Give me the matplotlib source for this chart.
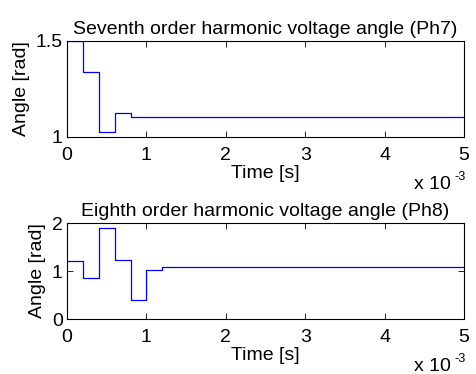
import matplotlib
matplotlib.use("Agg")
import matplotlib.pyplot as plt
from matplotlib.ticker import FuncFormatter

plt.rcParams['font.family'] = ['Liberation Sans', 'DejaVu Sans']

# step times [s] and angle values [rad]
t_ph7 = [0, 0.2e-3, 0.4e-3, 0.6e-3, 0.8e-3, 5e-3]
ph7 = [1.5, 1.34, 1.024, 1.127, 1.103, 1.103]

t_ph8 = [0, 0.2e-3, 0.4e-3, 0.6e-3, 0.8e-3, 1.0e-3, 1.2e-3, 5e-3]
ph8 = [1.20, 0.854, 1.89, 1.235, 0.39, 1.027, 1.083, 1.083]

titles = ['Seventh order harmonic voltage angle (Ph7)',
          'Eighth order harmonic voltage angle (Ph8)']
ylims = [(1, 1.5), (0, 2)]
yticks = [[1, 1.5], [0, 1, 2]]
xticks = [0, 1e-3, 2e-3, 3e-3, 4e-3, 5e-3]

fig = plt.figure(figsize=(4.76, 3.74), dpi=100)
ax1 = fig.add_axes([0.1408, 0.6337, 0.834, 0.2567])
ax2 = fig.add_axes([0.1408, 0.147, 0.834, 0.2567])

fs = 14
for ax, t, y, title, yl, yt in zip([ax1, ax2], [t_ph7, t_ph8], [ph7, ph8], titles, ylims, yticks):
    ax.step(t, y, where='post', color='#0000ff', lw=0.9)
    ax.set_xlim(0, 5e-3)
    ax.set_ylim(*yl)
    ax.set_xticks(xticks)
    ax.set_yticks(yt)
    ax.xaxis.set_major_formatter(FuncFormatter(lambda v, p: f'{v * 1e3:g}'))
    ax.yaxis.set_major_formatter(FuncFormatter(lambda v, p: f'{v:g}'))
    ax.tick_params(direction='in', top=True, right=True, labelsize=fs, length=4, width=0.6)
    ax.tick_params(axis='x', pad=7)
    ax.tick_params(axis='y', pad=3)
    for s in ax.spines.values():
        s.set_linewidth(0.8)
    ax.set_title(title, fontsize=fs, pad=5)
    ax.set_xlabel('Time [s]', fontsize=fs, labelpad=1)
    ax.set_ylabel('Angle [rad]', fontsize=fs, labelpad=4)
    ax.text(0.875, -0.41, 'x 10', transform=ax.transAxes, ha='left', va='top', fontsize=fs)
    ax.text(0.975, -0.35, '-3', transform=ax.transAxes, ha='left', va='top', fontsize=fs * 0.65)

fig.savefig('out.png', dpi=100)
